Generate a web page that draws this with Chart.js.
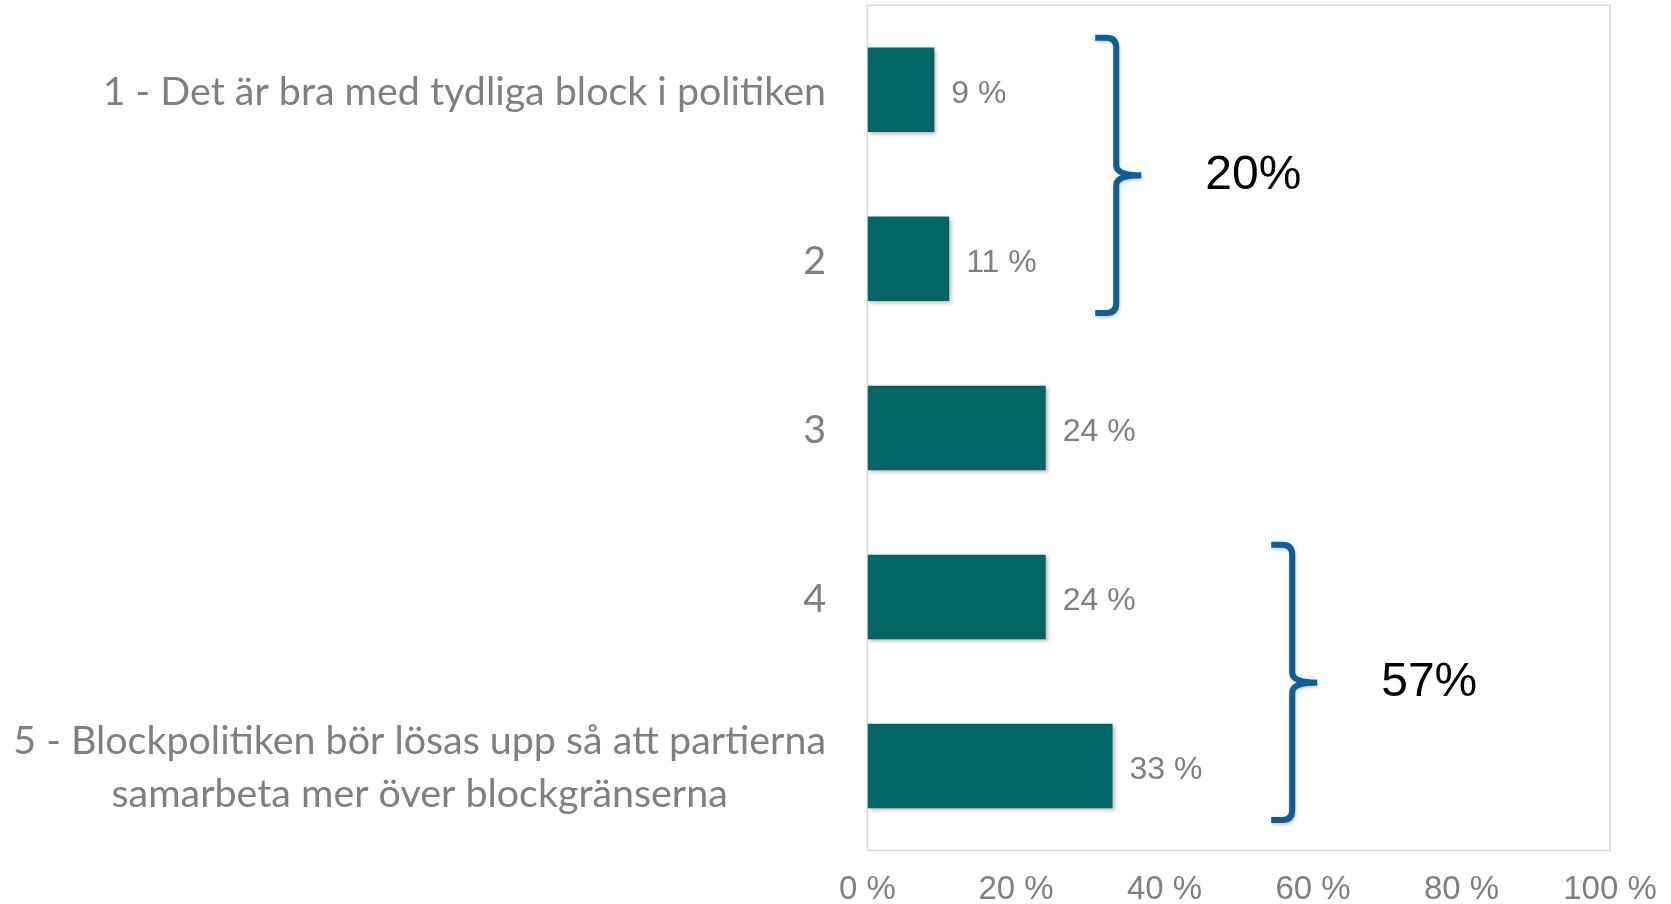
<!DOCTYPE html>
<html><head><meta charset="utf-8">
<script src="https://cdn.jsdelivr.net/npm/chart.js@4"></script>
<style>html,body{margin:0;padding:0;background:#fff;overflow:hidden}</style>
</head><body>
<canvas id="c" width="1671" height="904"></canvas>
<script>
const categories = [
  ['1 - Det är bra med tydliga block i politiken'],
  ['2'],
  ['3'],
  ['4'],
  ['5 - Blockpolitiken bör lösas upp så att partierna', 'samarbeta mer över blockgränserna']
];
const values = [9, 11, 24, 24, 33];
const xTicks = [0, 20, 40, 60, 80, 100];
const groupLabels = ['20%', '57%'];
const groupFirst = [0, 3];
const groupLast = [1, 4];
const groupBraceAt = [33.5, 57.2];

const GRAY = '#7f7f7f';
const BAR = '#006664';
const BRACE = '#0b5e96';

function drawBrace(ctx, xv, yTop, yBot, armL, tipR) {
  const ym = (yTop + yBot) / 2, r = 10;
  ctx.beginPath();
  ctx.moveTo(xv - armL, yTop);
  ctx.lineTo(xv - r, yTop);
  ctx.quadraticCurveTo(xv, yTop, xv, yTop + r);
  ctx.lineTo(xv, ym - 10);
  ctx.quadraticCurveTo(xv, ym, xv + tipR, ym);
  ctx.quadraticCurveTo(xv, ym, xv, ym + 10);
  ctx.lineTo(xv, yBot - r);
  ctx.quadraticCurveTo(xv, yBot, xv - r, yBot);
  ctx.lineTo(xv - armL, yBot);
  ctx.stroke();
}

const decor = {
  id: 'decor',
  beforeDatasetsDraw(chart) {
    const ctx = chart.ctx, a = chart.chartArea;
    ctx.save();
    ctx.strokeStyle = '#d9d9d9';
    ctx.lineWidth = 1.5;
    ctx.strokeRect(a.left, a.top, a.right - a.left, a.bottom - a.top);
    ctx.restore();
    ctx.save();
    ctx.shadowColor = 'rgba(0,0,0,0.28)';
    ctx.shadowBlur = 4;
    ctx.shadowOffsetX = 2;
    ctx.shadowOffsetY = 2;
  },
  afterDatasetsDraw(chart) {
    const ctx = chart.ctx;
    ctx.restore();
    const a = chart.chartArea;
    const xs = chart.scales.x, ys = chart.scales.y;
    // category labels
    ctx.save();
    ctx.fillStyle = GRAY;
    ctx.font = '39.4px Lato';
    ctx.textBaseline = 'middle';
    ctx.textAlign = 'center';
    const right = a.left - 41.5, lh = 53;
    categories.forEach((lines, i) => {
      const yc = ys.getPixelForValue(i) + 2;
      const maxW = Math.max(...lines.map(l => ctx.measureText(l).width));
      lines.forEach((l, j) => {
        ctx.fillText(l, right - maxW / 2, yc + (j - (lines.length - 1) / 2) * lh);
      });
    });
    // data labels
    ctx.font = '32px "Liberation Sans"';
    ctx.textAlign = 'left';
    chart.getDatasetMeta(0).data.forEach((bar, i) => {
      ctx.fillText(values[i] + ' %', bar.x + 17, bar.y + 4);
    });
    // braces
    const step = ys.getPixelForValue(1) - ys.getPixelForValue(0);
    groupLabels.forEach((lab, g) => {
      const y0 = ys.getPixelForValue(groupFirst[g]);
      const y1 = ys.getPixelForValue(groupLast[g]);
      const ym = (y0 + y1) / 2, half = step * 0.82;
      const xv = xs.getPixelForValue(groupBraceAt[g]);
      ctx.save();
      ctx.strokeStyle = BRACE;
      ctx.lineWidth = 6;
      ctx.shadowColor = 'rgba(0,0,0,0.2)';
      ctx.shadowBlur = 3;
      ctx.shadowOffsetX = 1;
      ctx.shadowOffsetY = 2;
      drawBrace(ctx, xv, ym - half + 2, ym + half, 21, 25);
      ctx.restore();
      ctx.fillStyle = '#000';
      ctx.font = '48px "Liberation Sans"';
      ctx.textAlign = 'left';
      ctx.textBaseline = 'middle';
      ctx.fillText(lab, xv + 25 + 64, ym + 1);
    });
    ctx.restore();
  }
};

new Chart(document.getElementById('c'), {
  type: 'bar',
  data: {
    labels: categories.map(l => l.join(' ')),
    datasets: [{
      data: values,
      backgroundColor: BAR,
      borderWidth: 0,
      categoryPercentage: 1,
      barPercentage: 0.5
    }]
  },
  options: {
    indexAxis: 'y',
    responsive: false,
    animation: false,
    events: [],
    layout: { padding: { left: 0, right: 61, top: 5.3, bottom: 0 } },
    plugins: { legend: { display: false }, tooltip: { enabled: false }, title: { display: false } },
    scales: {
      y: {
        grid: { display: false, drawTicks: false },
        border: { display: false },
        ticks: { display: false },
        afterFit(s) { s.width = 867.5; s.paddingTop = 0; s.paddingBottom = 0; }
      },
      x: {
        min: xTicks[0],
        max: xTicks[xTicks.length - 1],
        afterBuildTicks(s) { s.ticks = xTicks.map(v => ({ value: v })); },
        grid: { display: false, drawTicks: false },
        border: { display: false },
        ticks: {
          callback: v => v + ' %',
          color: GRAY,
          font: { family: 'Liberation Sans', size: 33 },
          padding: 20,
          maxRotation: 0,
          autoSkip: false
        },
        afterFit(s) { s.height = 53.5; s.paddingLeft = 0; s.paddingRight = 0; }
      }
    }
  },
  plugins: [decor]
});
</script>
</body></html>
